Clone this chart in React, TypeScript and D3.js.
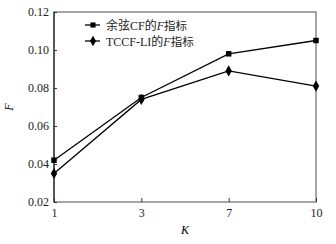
import React, { useEffect, useRef } from 'react'
import * as d3 from 'd3'

const kValues: string[] = ['1', '3', '7', '10']
const cosineF: number[] = [0.042, 0.075, 0.098, 0.105]
const tccfF: number[] = [0.035, 0.074, 0.089, 0.081]
const yTicks: number[] = [0.02, 0.04, 0.06, 0.08, 0.10, 0.12]
const seriesNames: string[] = ['余弦CF的', 'TCCF-LI的']

export default function App() {
  const svgRef = useRef<SVGSVGElement | null>(null)
  const width = 336
  const height = 244
  const margin = { top: 12, right: 20, bottom: 42, left: 54 }

  useEffect(() => {
    const svg = d3.select(svgRef.current)
    svg.selectAll('*').remove()
    const w = width - margin.left - margin.right
    const h = height - margin.top - margin.bottom
    const font = '"Liberation Serif", "Times New Roman", serif'

    const x = d3.scalePoint<string>().domain(kValues).range([0, w])
    const y = d3.scaleLinear().domain([0.02, 0.12]).range([h, 0])

    const g = svg.append('g').attr('transform', `translate(${margin.left},${margin.top})`)

    // frame
    g.append('rect')
      .attr('width', w).attr('height', h)
      .attr('fill', 'none').attr('stroke', '#888').attr('stroke-width', 1.5)
    g.append('line')
      .attr('x1', 0).attr('x2', 0).attr('y1', 0).attr('y2', h)
      .attr('stroke', '#222').attr('stroke-width', 1.2)

    // axes
    const yAxis = g.append('g').call(
      d3.axisLeft(y).tickValues(yTicks).tickSize(-3).tickPadding(5).tickFormat(d3.format('.2f'))
    )
    const xAxis = g.append('g').attr('transform', `translate(0,${h})`).call(
      d3.axisBottom(x).tickSize(-4).tickPadding(6)
    )
    for (const ax of [yAxis, xAxis]) {
      ax.select('.domain').remove()
      ax.selectAll('line').attr('stroke', '#333')
      ax.selectAll('text').attr('font-family', font).attr('font-size', 12).attr('fill', '#222')
    }

    // axis titles
    g.append('text')
      .attr('transform', `translate(${-41},${h / 2}) rotate(-90)`)
      .attr('text-anchor', 'middle')
      .attr('font-family', font).attr('font-style', 'italic').attr('font-size', 12)
      .text('F')
    g.append('text')
      .attr('x', w / 2).attr('y', h + 32)
      .attr('text-anchor', 'middle')
      .attr('font-family', font).attr('font-style', 'italic').attr('font-size', 12)
      .text('K')

    const line = d3.line<number>()
      .x((_, i) => x(kValues[i])!)
      .y((d) => y(d))

    const series = [cosineF, tccfF]
    series.forEach((data, si) => {
      g.append('path')
        .datum(data)
        .attr('d', line)
        .attr('fill', 'none')
        .attr('stroke', '#000')
        .attr('stroke-width', 1.3)
      const sym = d3.symbol().type(si === 0 ? d3.symbolSquare : d3.symbolDiamond).size(si === 0 ? 30 : 36)
      g.selectAll(`.m${si}`)
        .data(data)
        .join('path')
        .attr('transform', (d, i) => `translate(${x(kValues[i])},${y(d)})`)
        .attr('d', sym)
        .attr('fill', '#000')
    })

    // legend
    const lg = g.append('g').attr('transform', `translate(31,13)`)
    seriesNames.forEach((name, si) => {
      const row = lg.append('g').attr('transform', `translate(0,${si * 16})`)
      row.append('line').attr('x1', 0).attr('x2', 15).attr('stroke', '#000').attr('stroke-width', 1.3)
      row.append('path')
        .attr('transform', 'translate(8,0)')
        .attr('d', d3.symbol().type(si === 0 ? d3.symbolSquare : d3.symbolDiamond).size(si === 0 ? 26 : 32))
        .attr('fill', '#000')
      const t = row.append('text')
        .attr('x', 21).attr('y', 4.5)
        .attr('font-family', '"Liberation Serif", "Noto Sans CJK SC", serif')
        .attr('font-size', 12).attr('fill', '#222')
      t.append('tspan').text(name)
      t.append('tspan').attr('font-style', 'italic').text('F')
      t.append('tspan').attr('font-family', '"Noto Sans CJK SC", serif').attr('font-size', 11.5).text('指标')
    })
  }, [])

  return (
    <svg
      ref={svgRef}
      width={width}
      height={height}
      style={{ position: 'absolute', left: 0, top: 0, background: '#fff' }}
    />
  )
}
